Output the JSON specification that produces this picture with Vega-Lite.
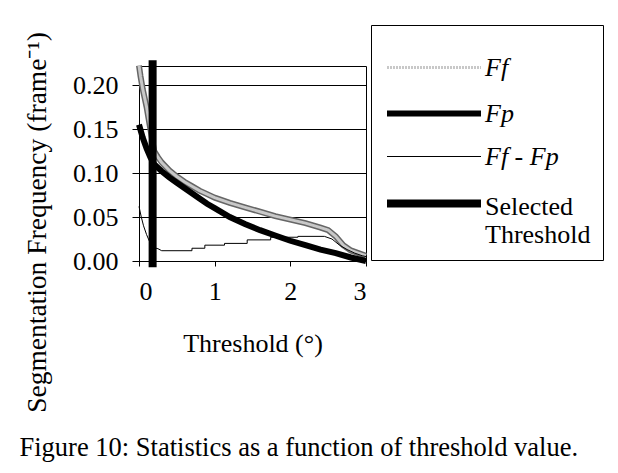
{
  "$schema": "https://vega.github.io/schema/vega-lite/v6.json",
  "width": 227,
  "height": 195,
  "autosize": {"type": "none"},
  "padding": {"left": 139, "top": 66, "right": 252, "bottom": 212},
  "background": "white",
  "config": {
    "font": "Liberation Serif",
    "view": {"stroke": "black", "strokeWidth": 1},
    "axis": {"labelFont": "Liberation Serif", "titleFont": "Liberation Serif", "labelColor": "black", "titleColor": "black", "domainColor": "black", "tickColor": "black", "titleFontWeight": "normal", "labelFontSize": 26, "titleFontSize": 26}
  },
  "title": {
    "text": "Figure 10: Statistics as a function of threshold value.",
    "orient": "bottom",
    "anchor": "start",
    "frame": "bounds",
    "font": "Liberation Serif",
    "fontSize": 26.5,
    "fontWeight": "normal",
    "color": "black",
    "offset": 23,
    "dx": -4
  },
  "data": {
    "values": [
      {"series": "Ff", "x": 0, "y": 0.222},
      {"series": "Ff", "x": 0.02, "y": 0.21},
      {"series": "Ff", "x": 0.05, "y": 0.195},
      {"series": "Ff", "x": 0.1, "y": 0.175},
      {"series": "Ff", "x": 0.15, "y": 0.15},
      {"series": "Ff", "x": 0.2, "y": 0.125},
      {"series": "Ff", "x": 0.25, "y": 0.118},
      {"series": "Ff", "x": 0.3, "y": 0.112},
      {"series": "Ff", "x": 0.4, "y": 0.103},
      {"series": "Ff", "x": 0.5, "y": 0.096},
      {"series": "Ff", "x": 0.6, "y": 0.09},
      {"series": "Ff", "x": 0.7, "y": 0.085},
      {"series": "Ff", "x": 0.8, "y": 0.08},
      {"series": "Ff", "x": 0.9, "y": 0.076},
      {"series": "Ff", "x": 1.0, "y": 0.072},
      {"series": "Ff", "x": 1.2, "y": 0.066},
      {"series": "Ff", "x": 1.4, "y": 0.061},
      {"series": "Ff", "x": 1.6, "y": 0.056},
      {"series": "Ff", "x": 1.8, "y": 0.051},
      {"series": "Ff", "x": 2.0, "y": 0.047},
      {"series": "Ff", "x": 2.2, "y": 0.043},
      {"series": "Ff", "x": 2.4, "y": 0.038},
      {"series": "Ff", "x": 2.5, "y": 0.035},
      {"series": "Ff", "x": 2.6, "y": 0.028},
      {"series": "Ff", "x": 2.7, "y": 0.018},
      {"series": "Ff", "x": 2.8, "y": 0.012},
      {"series": "Ff", "x": 2.9, "y": 0.009},
      {"series": "Ff", "x": 3.0, "y": 0.006},
      {"series": "Fp", "x": 0, "y": 0.155},
      {"series": "Fp", "x": 0.05, "y": 0.14},
      {"series": "Fp", "x": 0.1, "y": 0.128},
      {"series": "Fp", "x": 0.15, "y": 0.118},
      {"series": "Fp", "x": 0.2, "y": 0.11},
      {"series": "Fp", "x": 0.3, "y": 0.102},
      {"series": "Fp", "x": 0.4, "y": 0.095},
      {"series": "Fp", "x": 0.5, "y": 0.089},
      {"series": "Fp", "x": 0.6, "y": 0.083},
      {"series": "Fp", "x": 0.7, "y": 0.077},
      {"series": "Fp", "x": 0.8, "y": 0.071},
      {"series": "Fp", "x": 0.9, "y": 0.065},
      {"series": "Fp", "x": 1.0, "y": 0.06},
      {"series": "Fp", "x": 1.2, "y": 0.05},
      {"series": "Fp", "x": 1.4, "y": 0.042},
      {"series": "Fp", "x": 1.6, "y": 0.035},
      {"series": "Fp", "x": 1.8, "y": 0.029},
      {"series": "Fp", "x": 2.0, "y": 0.023},
      {"series": "Fp", "x": 2.2, "y": 0.018},
      {"series": "Fp", "x": 2.4, "y": 0.013},
      {"series": "Fp", "x": 2.6, "y": 0.009},
      {"series": "Fp", "x": 2.8, "y": 0.004},
      {"series": "Fp", "x": 3.0, "y": 0.0},
      {"series": "Ff - Fp", "x": 0, "y": 0.062},
      {"series": "Ff - Fp", "x": 0.03, "y": 0.05},
      {"series": "Ff - Fp", "x": 0.06, "y": 0.04},
      {"series": "Ff - Fp", "x": 0.1, "y": 0.03},
      {"series": "Ff - Fp", "x": 0.15, "y": 0.02},
      {"series": "Ff - Fp", "x": 0.2, "y": 0.015},
      {"series": "Ff - Fp", "x": 0.25, "y": 0.014},
      {"series": "Ff - Fp", "x": 0.3, "y": 0.0117},
      {"series": "Ff - Fp", "x": 0.7, "y": 0.0117},
      {"series": "Ff - Fp", "x": 0.7, "y": 0.0145},
      {"series": "Ff - Fp", "x": 0.87, "y": 0.0145},
      {"series": "Ff - Fp", "x": 0.87, "y": 0.018},
      {"series": "Ff - Fp", "x": 1.13, "y": 0.018},
      {"series": "Ff - Fp", "x": 1.13, "y": 0.02},
      {"series": "Ff - Fp", "x": 1.43, "y": 0.02},
      {"series": "Ff - Fp", "x": 1.43, "y": 0.024},
      {"series": "Ff - Fp", "x": 1.74, "y": 0.024},
      {"series": "Ff - Fp", "x": 1.74, "y": 0.027},
      {"series": "Ff - Fp", "x": 2.1, "y": 0.027},
      {"series": "Ff - Fp", "x": 2.1, "y": 0.028},
      {"series": "Ff - Fp", "x": 2.45, "y": 0.028},
      {"series": "Ff - Fp", "x": 2.55, "y": 0.025},
      {"series": "Ff - Fp", "x": 2.65, "y": 0.018},
      {"series": "Ff - Fp", "x": 2.75, "y": 0.013},
      {"series": "Ff - Fp", "x": 2.85, "y": 0.009},
      {"series": "Ff - Fp", "x": 2.95, "y": 0.006},
      {"series": "Ff - Fp", "x": 3.0, "y": 0.005},
      {"series": "Selected Threshold", "x": 0.18, "y": -0.007},
      {"series": "Selected Threshold", "x": 0.18, "y": 0.228}
    ]
  },
  "encoding": {
    "x": {
      "field": "x", "type": "quantitative",
      "scale": {"domain": [0, 3], "nice": false, "zero": false},
      "axis": {"values": [0, 1, 2, 3], "grid": false, "tickSize": 5, "labelPadding": 12, "title": "Threshold (°)", "titlePadding": 26}
    },
    "y": {
      "field": "y", "type": "quantitative",
      "scale": {"domain": [0, 0.2216], "nice": false, "zero": false},
      "axis": {"values": [0, 0.05, 0.1, 0.15, 0.2], "format": ".2f", "grid": true, "gridColor": "black", "gridOpacity": 1, "tickSize": 7, "labelPadding": 14, "title": "Segmentation Frequency (frame⁻¹)", "titleFontSize": 27.5, "titlePadding": 21, "titleY": 156}
    },
    "order": {"value": null}
  },
  "layer": [
    {
      "transform": [{"filter": "datum.series == 'Ff'"}],
      "mark": {"type": "line", "color": "#666666", "strokeWidth": 6},
      "encoding": {}
    },
    {
      "transform": [{"filter": "datum.series != 'Selected Threshold'"}],
      "mark": {"type": "line"},
      "encoding": {
        "color": {
          "field": "series", "type": "nominal",
          "scale": {"domain": ["Ff", "Fp", "Ff - Fp", "Selected Threshold"], "range": ["#c8c8c8", "#000000", "#000000", "#000000"]},
          "legend": {
            "orient": "none", "legendX": 232, "legendY": -41,
            "title": " ", "titleFontSize": 10, "titlePadding": 6,
            "symbolType": "M-1,0H6.23", "symbolSize": 676,
            "labelFont": "Liberation Serif", "labelFontSize": 26, "labelColor": "black",
            "labelOffset": 68, "rowPadding": 16.5, "padding": 12,
            "strokeColor": "black", "fillColor": "white",
            "labelExpr": "datum.value == 'Selected Threshold' ? ['Selected', 'Threshold'] : datum.label",
            "encode": {
              "labels": {"update": {
                "fontStyle": {"signal": "datum.value == 'Selected Threshold' ? 'normal' : 'italic'"},
                "baseline": {"signal": "datum.value == 'Selected Threshold' ? 'top' : 'middle'"},
                "dy": {"signal": "datum.value == 'Selected Threshold' ? -10 : 0"}
              }},
              "symbols": {"update": {
                "fill": {"value": "transparent"},
                "strokeDash": {"signal": "datum.value == 'Ff' ? [2, 1] : [1, 0]"},
                "stroke": {"signal": "datum.value == 'Ff' ? '#8a8a8a' : 'black'"},
                "strokeWidth": {"signal": "datum.value == 'Ff' ? 4 : datum.value == 'Fp' ? 6 : datum.value == 'Ff - Fp' ? 1 : 8"}
              }}
            }
          }
        },
        "strokeWidth": {
          "field": "series", "type": "nominal",
          "scale": {"type": "ordinal", "domain": ["Ff", "Fp", "Ff - Fp", "Selected Threshold"], "range": [3, 6, 1, 8]},
          "legend": null
        }
      }
    },
    {
      "transform": [{"filter": "datum.series == 'Selected Threshold'"}],
      "mark": {"type": "line"},
      "encoding": {
        "color": {"field": "series", "type": "nominal"},
        "strokeWidth": {
          "field": "series", "type": "nominal",
          "scale": {"type": "ordinal", "domain": ["Ff", "Fp", "Ff - Fp", "Selected Threshold"], "range": [3, 6, 1, 8]},
          "legend": null
        }
      }
    }
  ]
}
